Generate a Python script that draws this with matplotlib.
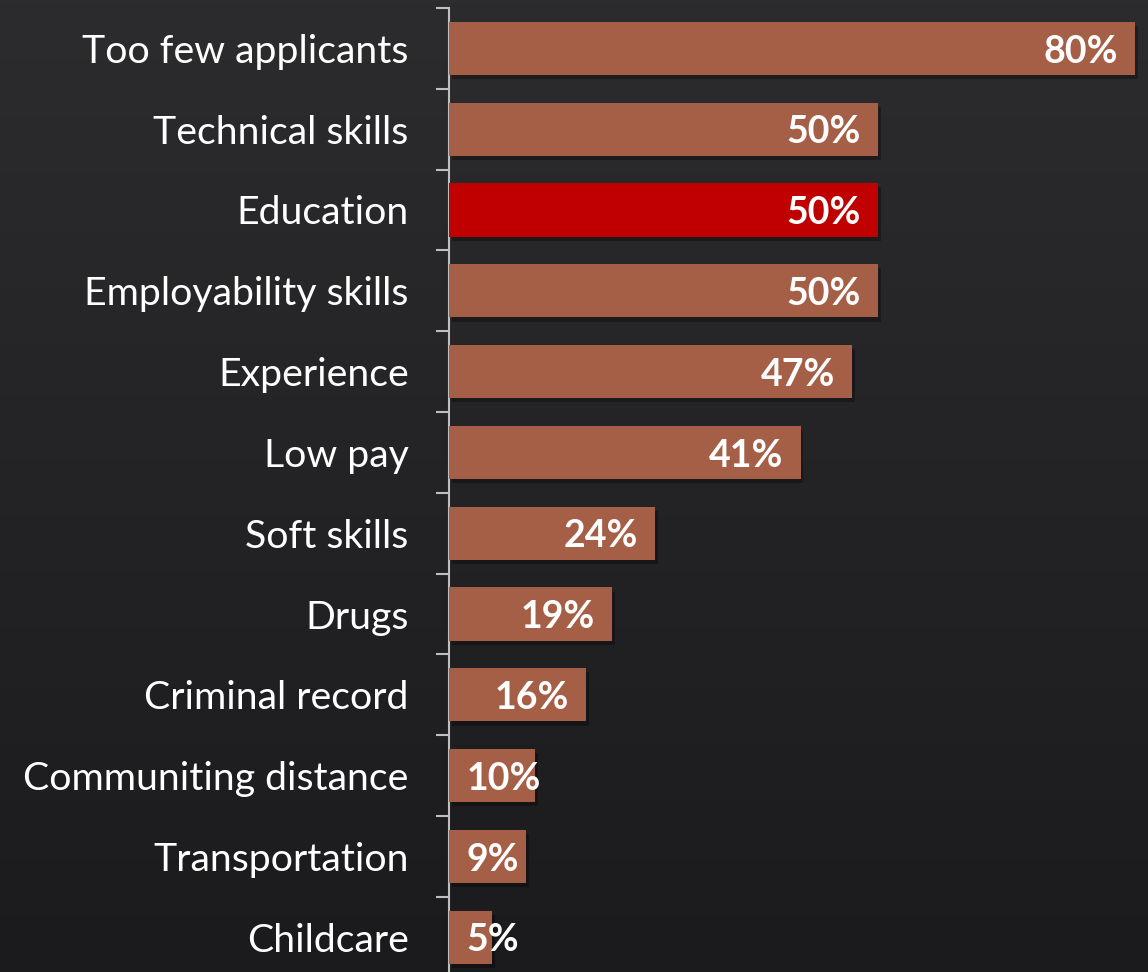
import numpy as np
import matplotlib.pyplot as plt
import matplotlib.patheffects as pe

categories = ["Too few applicants", "Technical skills", "Education", "Employability skills",
              "Experience", "Low pay", "Soft skills", "Drugs", "Criminal record",
              "Communiting distance", "Transportation", "Childcare"]
values = [80, 50, 50, 50, 47, 41, 24, 19, 16, 10, 9, 5]
highlight = "Education"

bar_color = '#A65F47'
hi_color = '#C00000'
font = ['Lato', 'DejaVu Sans']

fig = plt.figure(figsize=(11.48, 9.72), dpi=100)

# dark chalkboard-ish background gradient
bg = fig.add_axes([0, 0, 1, 1], zorder=-10)
grad = np.linspace(0, 1, 256).reshape(-1, 1)
bg.imshow(grad, aspect='auto', cmap=plt.matplotlib.colors.LinearSegmentedColormap.from_list(
    'bg', ['#2c2c2e', '#1b1b1d']), extent=[0, 1, 0, 1])
bg.axis('off')

ax = fig.add_axes([449 / 1148, -0.0058, 1 - 449 / 1148, 0.9976])
ax.set_facecolor('none')
y = np.arange(len(categories))
colors = [hi_color if c == highlight else bar_color for c in categories]
bars = ax.barh(y, values, height=0.66, color=colors, zorder=3)
for b in bars:
    b.set_path_effects([pe.SimplePatchShadow(offset=(2, -3), shadow_rgbFace='black', alpha=0.3),
                        pe.Normal()])

ax.set_xlim(0, 81.5)
ax.set_ylim(len(categories) - 0.5, -0.5)

for yi, v in zip(y, values):
    if v > 12:
        ax.text(v - 2.0, yi + 0.04, f"{v}%", ha='right', va='center', color='white',
                fontsize=27, fontweight='bold', family=font, zorder=4)
    else:
        ax.text(2.0, yi + 0.04, f"{v}%", ha='left', va='center', color='white',
                fontsize=27, fontweight='bold', family=font, zorder=4)

ax.set_yticks(y)
ax.set_yticklabels(categories, family=font, fontsize=28.3, color='white')
ax.tick_params(axis='y', which='major', length=0, pad=29)
ax.set_yticks(np.arange(len(categories) + 1) - 0.5, minor=True)
ax.tick_params(axis='y', which='minor', length=9.4, width=1.5, color='#bfbfbf', direction='out')
ax.set_xticks([])

for s in ['top', 'right', 'bottom']:
    ax.spines[s].set_visible(False)
ax.spines['left'].set_color('#bfbfbf')
ax.spines['left'].set_linewidth(1.5)

fig.savefig("out.png", dpi=100, facecolor='#262628')
